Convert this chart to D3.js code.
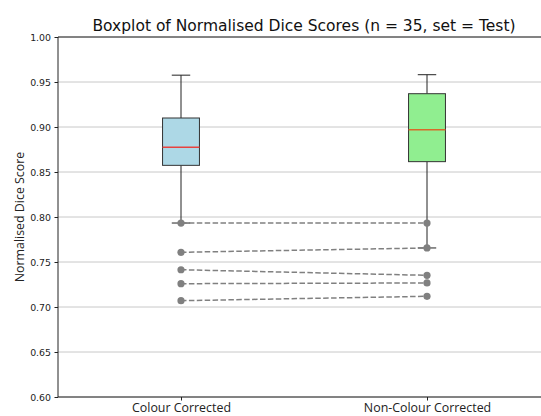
<!DOCTYPE html>
<html>
<head>
<meta charset="utf-8">
<script src="https://cdn.jsdelivr.net/npm/d3@7"></script>
<style>
  html, body { margin: 0; padding: 0; background: #fff; }
  svg { display: block; }
</style>
</head>
<body>
<svg id="chart" width="541" height="416"></svg>
<script>
// Groups and box statistics (whisker low, Q1, median, Q3, whisker high)
const categories = ["Colour Corrected", "Non-Colour Corrected"];
const boxFill = ["#add8e6", "#90ee90"];
const whiskerLow = [0.7933, 0.7656];
const q1 = [0.8574, 0.8615];
const median = [0.8774, 0.8970];
const q3 = [0.9100, 0.9370];
const whiskerHigh = [0.9576, 0.9581];

// Five lowest-scoring cases, paired across the two groups
const pairedCC = [0.7933, 0.7608, 0.7414, 0.7259, 0.7070];
const pairedNCC = [0.7933, 0.7656, 0.7352, 0.7267, 0.7119];

const yTicks = [0.60, 0.65, 0.70, 0.75, 0.80, 0.85, 0.90, 0.95, 1.00];

const svg = d3.select("#chart");
const plotLeft = 58, plotRight = 550, plotTop = 37, plotBottom = 397;

const x = d3.scaleLinear().domain([0.5, 2.5]).range([plotLeft, plotRight]);
const y = d3.scaleLinear().domain([0.60, 1.00]).range([plotBottom, plotTop]);

// Horizontal grid
svg.append("g")
  .selectAll("line")
  .data(yTicks)
  .join("line")
  .attr("x1", plotLeft).attr("x2", plotRight)
  .attr("y1", d => y(d)).attr("y2", d => y(d))
  .attr("stroke", "#c8c8c8")
  .attr("stroke-width", 1);

// Boxes
const boxW = 0.15, capW = 0.075;
const boxes = svg.append("g");
categories.forEach((c, i) => {
  const pos = i + 1;
  const g = boxes.append("g");
  // whiskers
  g.append("line")
    .attr("x1", x(pos)).attr("x2", x(pos))
    .attr("y1", y(q3[i])).attr("y2", y(whiskerHigh[i]))
    .attr("stroke", "#222").attr("stroke-width", 1);
  g.append("line")
    .attr("x1", x(pos)).attr("x2", x(pos))
    .attr("y1", y(q1[i])).attr("y2", y(whiskerLow[i]))
    .attr("stroke", "#222").attr("stroke-width", 1);
  // caps
  [whiskerHigh[i], whiskerLow[i]].forEach(v => {
    g.append("line")
      .attr("x1", x(pos - capW / 2)).attr("x2", x(pos + capW / 2))
      .attr("y1", y(v)).attr("y2", y(v))
      .attr("stroke", "#222").attr("stroke-width", 1);
  });
  // box
  g.append("rect")
    .attr("x", x(pos - boxW / 2))
    .attr("y", y(q3[i]))
    .attr("width", x(pos + boxW / 2) - x(pos - boxW / 2))
    .attr("height", y(q1[i]) - y(q3[i]))
    .attr("fill", boxFill[i])
    .attr("stroke", "#333").attr("stroke-width", 1);
  // median
  g.append("line")
    .attr("x1", x(pos - boxW / 2)).attr("x2", x(pos + boxW / 2))
    .attr("y1", y(median[i])).attr("y2", y(median[i]))
    .attr("stroke", i === 0 ? "#e8423f" : "#d86a2a").attr("stroke-width", 1.5);
});

// Paired dashed connectors with markers
const pairs = pairedCC.map((v, k) => [v, pairedNCC[k]]);
const pg = svg.append("g");
pg.selectAll("line")
  .data(pairs)
  .join("line")
  .attr("x1", x(1)).attr("x2", x(2))
  .attr("y1", d => y(d[0])).attr("y2", d => y(d[1]))
  .attr("stroke", "#808080")
  .attr("stroke-width", 1.5)
  .attr("stroke-dasharray", "5.5,2.4");
pg.selectAll("circle.cc")
  .data(pairedCC)
  .join("circle")
  .attr("class", "cc")
  .attr("cx", x(1)).attr("cy", d => y(d)).attr("r", 3.6)
  .attr("fill", "#808080");
pg.selectAll("circle.ncc")
  .data(pairedNCC)
  .join("circle")
  .attr("class", "ncc")
  .attr("cx", x(2)).attr("cy", d => y(d)).attr("r", 3.6)
  .attr("fill", "#808080");

// Axes
const yAxis = d3.axisLeft(y).tickValues(yTicks).tickFormat(d3.format(".2f")).tickSize(3.5).tickPadding(3.5);
const yg = svg.append("g").attr("transform", `translate(${plotLeft},0)`).call(yAxis);
yg.select(".domain").remove();
yg.selectAll("text").attr("font-family", "DejaVu Sans").attr("font-size", 9.4).attr("fill", "#222");
yg.selectAll("line").attr("stroke", "#222");

const xAxis = d3.axisBottom(x).tickValues([1, 2]).tickFormat((d, i) => categories[i]).tickSize(3.5).tickPadding(3);
const xg = svg.append("g").attr("transform", `translate(0,${plotBottom})`).call(xAxis);
xg.select(".domain").remove();
xg.selectAll("text").attr("font-family", "Open Sans").attr("font-size", 12.4).attr("fill", "#222");
xg.selectAll("line").attr("stroke", "#222");

// Spines
const sp = svg.append("g").attr("stroke", "#222").attr("stroke-width", 1).attr("fill", "none");
sp.append("line").attr("x1", plotLeft).attr("x2", plotRight).attr("y1", plotTop).attr("y2", plotTop);
sp.append("line").attr("x1", plotLeft).attr("x2", plotRight).attr("y1", plotBottom).attr("y2", plotBottom);
sp.append("line").attr("x1", plotLeft).attr("x2", plotLeft).attr("y1", plotTop).attr("y2", plotBottom);
sp.append("line").attr("x1", plotRight).attr("x2", plotRight).attr("y1", plotTop).attr("y2", plotBottom);

// Title and axis label
svg.append("text")
  .attr("x", (plotLeft + plotRight) / 2).attr("y", 31)
  .attr("text-anchor", "middle")
  .attr("font-family", "DejaVu Sans").attr("font-size", 15.5)
  .attr("fill", "#111")
  .text("Boxplot of Normalised Dice Scores (n = 35, set = Test)");

svg.append("text")
  .attr("transform", `translate(23.5,${(plotTop + plotBottom) / 2}) rotate(-90)`)
  .attr("text-anchor", "middle")
  .attr("font-family", "Open Sans").attr("font-size", 12.4)
  .attr("fill", "#222")
  .text("Normalised Dice Score");
</script>
</body>
</html>
